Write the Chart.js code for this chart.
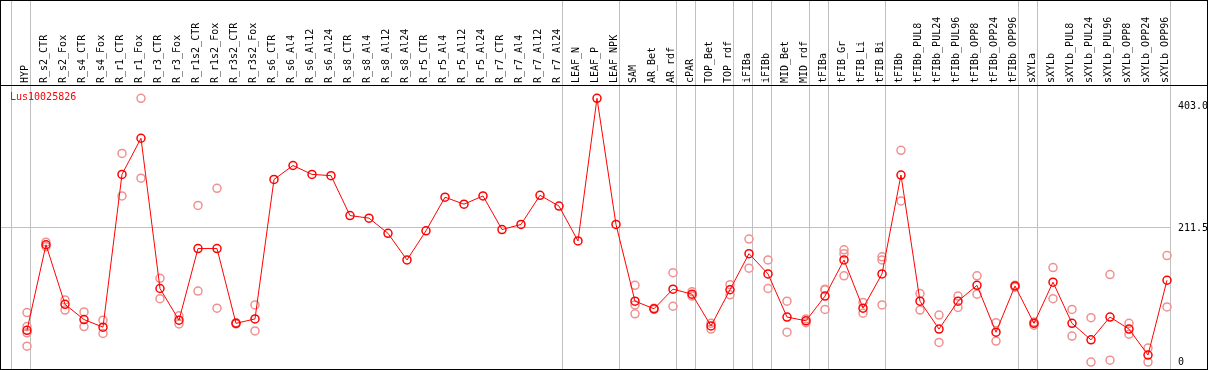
<!DOCTYPE html>
<html>
<head>
<meta charset="utf-8">
<script src="https://cdn.jsdelivr.net/npm/chart.js@4"></script>
<style>
  html, body { margin: 0; padding: 0; background: #fff; }
  canvas { display: block; }
</style>
</head>
<body>
<canvas id="expr-chart" width="1209" height="370"></canvas>
<script>
const labels = [
  'HYP', 'R_s2_CTR', 'R_s2_Fox', 'R_s4_CTR', 'R_s4_Fox', 'R_r1_CTR', 'R_r1_Fox',
  'R_r3_CTR', 'R_r3_Fox', 'R_r1s2_CTR', 'R_r1s2_Fox', 'R_r3s2_CTR', 'R_r3s2_Fox',
  'R_s6_CTR', 'R_s6_Al4', 'R_s6_Al12', 'R_s6_Al24', 'R_s8_CTR', 'R_s8_Al4',
  'R_s8_Al12', 'R_s8_Al24', 'R_r5_CTR', 'R_r5_Al4', 'R_r5_Al12', 'R_r5_Al24',
  'R_r7_CTR', 'R_r7_Al4', 'R_r7_Al12', 'R_r7_Al24', 'LEAF_N', 'LEAF_P', 'LEAF_NPK',
  'SAM', 'AR_Bet', 'AR_rdf', 'cPAR', 'TOP_Bet', 'TOP_rdf', 'iFIBa', 'iFIBb',
  'MID_Bet', 'MID_rdf', 'tFIBa', 'tFIB_Gr', 'tFIB_Li', 'tFIB_Bi', 'tFIBb',
  'tFIBb_PUL8', 'tFIBb_PUL24', 'tFIBb_PUL96', 'tFIBb_OPP8', 'tFIBb_OPP24', 'tFIBb_OPP96',
  'sXYLa', 'sXYLb', 'sXYLb_PUL8', 'sXYLb_PUL24', 'sXYLb_PUL96', 'sXYLb_OPP8',
  'sXYLb_OPP24', 'sXYLb_OPP96'
];

// mean expression per sample
const means = [
  50, 185, 91, 67, 55, 296, 353, 116, 66, 179, 179, 61, 68,
  288, 310, 296, 294, 231, 227, 203, 161, 207, 260, 249, 262,
  209, 217, 263, 246, 191, 416, 217,
  96, 84, 115, 107, 57, 114, 171, 139, 71, 65, 104, 161, 85, 139, 295,
  96, 52, 96, 121, 47, 120,
  61, 126, 61, 35, 71, 52, 11, 129
];

// replicates (null = no replicate)
const rep1 = [
  78, 189, 98, 79, 66, 329, 416, 132, 73, 247, 274, 62, 90,
  null, null, null, null, null, null, null, null, null, null, null, null,
  null, null, null, null, null, null, null,
  121, 85, 141, 111, 61, 122, 194, 161, 96, 68, 114, 177, 94, 166, 334,
  108, 74, 104, 136, 62, 121,
  63, 149, 83, 70, 138, 61, 22, 168
];
const rep2 = [
  25, 182, 82, 56, 45, 262, 290, 100, 60, 112, 85, 60, 49,
  null, null, null, null, null, null, null, null, null, null, null, null,
  null, null, null, null, null, null, null,
  76, 83, 88, 104, 52, 106, 148, 116, 47, 62, 83, 136, 77, 90, 254,
  82, 31, 86, 107, 33, 118,
  58, 100, 41, 0, 3, 44, 0, 87
];
const rep3 = [
  46, null, null, null, null, null, null, null, null, null, null, null, null,
  null, null, null, null, null, null, null, null, null, null, null, null,
  null, null, null, null, null, null, null,
  90, null, null, null, null, null, null, null, null, null, 115, 171, null, 161, null,
  null, null, null, null, null, null,
  null, null, null, null, null, null, null, null
];
const rep4 = [
  56, null, null, null, null, null, null, null, null, null, null, null, null,
  null, null, null, null, null, null, null, null, null, null, null, null,
  null, null, null, null, null, null, null,
  null, null, null, null, null, null, null, null, null, null, null, null, null, null, null,
  null, null, null, null, null, null,
  null, null, null, null, null, null, null, null
];

const yTicks = [0, 211.5, 403];
const yTickLabels = ['0', '211.5', '403.0'];
// last sample index of each tissue group (separator drawn after it)
const groupEnds = [-1, 0, 28, 31, 34, 35, 37, 38, 39, 41, 42, 45, 52, 53, 60];

const toPoints = arr => arr.map((v, i) => v === null ? null : { x: i, y: v }).filter(p => p);

const repColor = '#f09090';
const repStyle = {
  type: 'scatter',
  borderColor: repColor,
  backgroundColor: 'transparent',
  pointRadius: 4,
  pointBorderWidth: 1.5,
  showLine: false,
  order: 1
};

const framePlugin = {
  id: 'frame',
  beforeDatasetsDraw(chart) {
    const ctx = chart.ctx;
    const x = chart.scales.x;
    ctx.save();
    ctx.strokeStyle = '#c0c0c0';
    ctx.lineWidth = 1;
    groupEnds.forEach(i => {
      const px = Math.round(x.getPixelForValue(i) + 3) + 0.5;
      ctx.beginPath();
      ctx.moveTo(px, 0);
      ctx.lineTo(px, 369);
      ctx.stroke();
    });
    ctx.restore();
  },
  afterDraw(chart) {
    const ctx = chart.ctx;
    ctx.save();
    ctx.strokeStyle = '#000';
    ctx.lineWidth = 1;
    ctx.strokeRect(0.5, 0.5, 1207, 369);
    ctx.beginPath();
    ctx.moveTo(0, 85.5);
    ctx.lineTo(1208, 85.5);
    ctx.stroke();
    ctx.fillStyle = '#ff0000';
    ctx.font = '10px "DejaVu Sans Mono"';
    ctx.textBaseline = 'middle';
    ctx.fillText('Lus10025826', 10, 97);
    ctx.restore();
  }
};

Chart.defaults.font.family = '"DejaVu Sans Mono", monospace';
Chart.defaults.font.size = 10;
Chart.defaults.color = '#000';

new Chart(document.getElementById('expr-chart'), {
  type: 'line',
  data: {
    datasets: [
      {
        label: 'mean',
        data: toPoints(means),
        borderColor: '#ff0000',
        borderWidth: 1,
        backgroundColor: 'transparent',
        pointBorderColor: '#ff0000',
        pointBackgroundColor: 'transparent',
        pointRadius: 4,
        pointBorderWidth: 1.5,
        tension: 0,
        order: 0
      },
      Object.assign({ label: 'rep1', data: toPoints(rep1) }, repStyle),
      Object.assign({ label: 'rep2', data: toPoints(rep2) }, repStyle),
      Object.assign({ label: 'rep3', data: toPoints(rep3) }, repStyle),
      Object.assign({ label: 'rep4', data: toPoints(rep4) }, repStyle)
    ]
  },
  options: {
    responsive: false,
    animation: false,
    clip: false,
    layout: { autoPadding: false, padding: { left: 1, right: 0, top: 0, bottom: 1 } },
    plugins: {
      legend: { display: false },
      tooltip: { enabled: false }
    },
    scales: {
      x: {
        type: 'linear',
        position: 'top',
        min: -1.368,
        max: 60.158,
        afterBuildTicks: s => { s.ticks = labels.map((l, i) => ({ value: i })); },
        afterFit: s => {
          s.height = 85;
          s.paddingLeft = 0;
          s.paddingRight = 0;
        },
        grid: { display: false, drawTicks: false },
        border: { display: false },
        ticks: {
          autoSkip: false,
          minRotation: 90,
          maxRotation: 90,
          padding: 2,
          labelOffset: 10,
          callback: v => labels[v]
        }
      },
      y: {
        position: 'right',
        min: -11,
        max: 437,
        afterBuildTicks: s => { s.ticks = yTicks.map(v => ({ value: v })); },
        afterFit: s => {
          s.width = 39;
          s.paddingTop = 0;
          s.paddingBottom = 0;
        },
        border: { display: false },
        grid: {
          drawTicks: false,
          color: c => (c.tick && c.tick.value === 211.5) ? '#c0c0c0' : 'transparent'
        },
        ticks: {
          padding: 8,
          callback: v => yTickLabels[yTicks.indexOf(v)]
        }
      }
    }
  },
  plugins: [framePlugin]
});
</script>
</body>
</html>
